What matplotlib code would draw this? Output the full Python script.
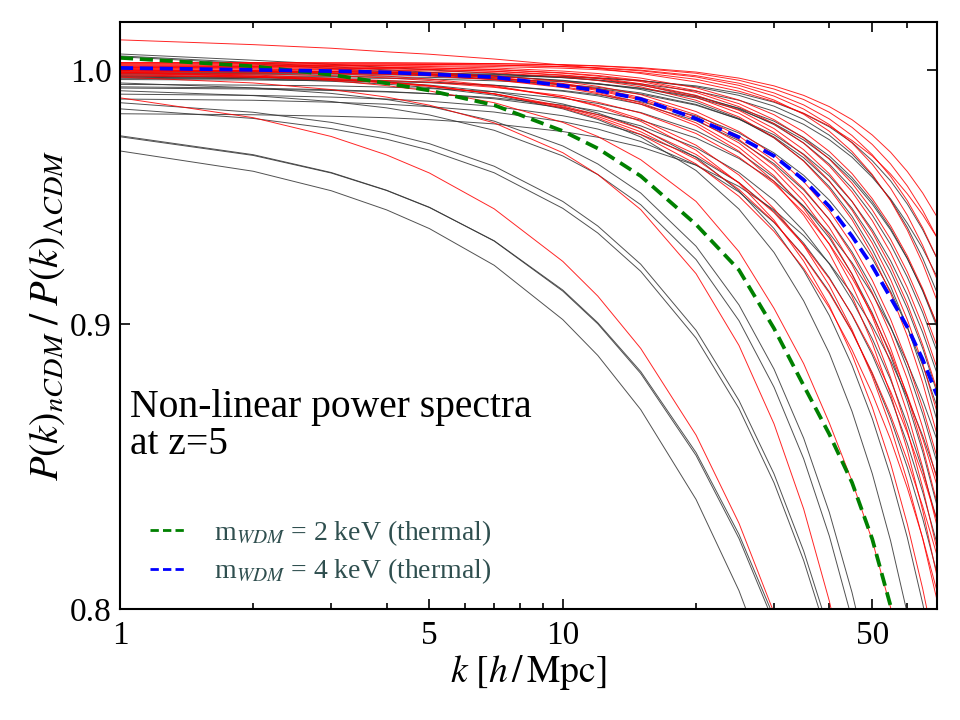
import matplotlib
matplotlib.use('Agg')
import matplotlib.pyplot as plt
from matplotlib.lines import Line2D
from matplotlib.ticker import FixedLocator, NullLocator, NullFormatter

plt.rcParams['font.family'] = ['Liberation Serif', 'DejaVu Serif']
plt.rcParams['mathtext.fontset'] = 'stix'

k_grid = [1, 2, 3, 4, 5, 7, 10, 12, 15, 20, 25, 30, 35, 40, 45, 50, 55, 60, 65, 70]

# P(k)_nCDM / P(k)_LCDM, black models
black_ratios = [
    [0.9670, 0.9589, 0.9512, 0.9437, 0.9364, 0.9223, 0.9018, 0.8885, 0.8688, 0.8371, 0.8061, 0.7757, 0.7459, 0.7165, 0.6874, 0.6585, 0.6302, 0.6020, 0.5740, 0.5460],
    [0.9731, 0.9655, 0.9584, 0.9514, 0.9447, 0.9316, 0.9125, 0.9002, 0.8819, 0.8525, 0.8237, 0.7954, 0.7678, 0.7405, 0.7134, 0.6866, 0.6603, 0.6340, 0.6081, 0.5820],
    [0.9727, 0.9652, 0.9582, 0.9513, 0.9446, 0.9317, 0.9129, 0.9006, 0.8826, 0.8535, 0.8251, 0.7972, 0.7698, 0.7429, 0.7161, 0.6897, 0.6637, 0.6380, 0.6121, 0.5870],
    [0.9840, 0.9801, 0.9760, 0.9717, 0.9673, 0.9583, 0.9443, 0.9347, 0.9200, 0.8949, 0.8692, 0.8429, 0.8162, 0.7892, 0.7617, 0.7338, 0.7059, 0.6777, 0.6491, 0.6204],
    [0.9865, 0.9826, 0.9785, 0.9742, 0.9699, 0.9609, 0.9470, 0.9374, 0.9227, 0.8978, 0.8721, 0.8460, 0.8194, 0.7925, 0.7651, 0.7373, 0.7096, 0.6814, 0.6530, 0.6244],
    [0.9914, 0.9894, 0.9870, 0.9844, 0.9815, 0.9753, 0.9650, 0.9576, 0.9457, 0.9245, 0.9014, 0.8769, 0.8513, 0.8245, 0.7966, 0.7677, 0.7382, 0.7075, 0.6764, 0.6444],
    [0.9946, 0.9926, 0.9903, 0.9878, 0.9850, 0.9790, 0.9690, 0.9618, 0.9503, 0.9296, 0.9073, 0.8835, 0.8586, 0.8326, 0.8055, 0.7774, 0.7487, 0.7190, 0.6887, 0.6580],
    [0.9971, 0.9963, 0.9953, 0.9941, 0.9927, 0.9896, 0.9840, 0.9797, 0.9726, 0.9592, 0.9440, 0.9272, 0.9088, 0.8893, 0.8682, 0.8461, 0.8229, 0.7985, 0.7731, 0.7468],
    [0.9975, 0.9968, 0.9959, 0.9949, 0.9937, 0.9910, 0.9860, 0.9823, 0.9761, 0.9644, 0.9511, 0.9364, 0.9204, 0.9033, 0.8849, 0.8656, 0.8453, 0.8240, 0.8018, 0.7788],
    [1.0066, 1.0040, 1.0023, 1.0010, 1.0000, 0.9985, 0.9968, 0.9958, 0.9942, 0.9912, 0.9875, 0.9830, 0.9777, 0.9715, 0.9645, 0.9565, 0.9480, 0.9385, 0.9287, 0.9180],
    [1.0058, 1.0030, 1.0013, 1.0000, 0.9990, 0.9975, 0.9955, 0.9943, 0.9925, 0.9890, 0.9843, 0.9790, 0.9724, 0.9650, 0.9564, 0.9470, 0.9365, 0.9250, 0.9125, 0.8990],
    [1.0054, 1.0025, 1.0006, 0.9992, 0.9980, 0.9962, 0.9938, 0.9923, 0.9900, 0.9855, 0.9798, 0.9735, 0.9657, 0.9570, 0.9470, 0.9360, 0.9240, 0.9110, 0.8970, 0.8820],
    [0.9980, 0.9980, 0.9979, 0.9979, 0.9978, 0.9975, 0.9970, 0.9965, 0.9955, 0.9934, 0.9904, 0.9867, 0.9821, 0.9767, 0.9704, 0.9631, 0.9551, 0.9460, 0.9360, 0.9250],
    [0.9995, 0.9994, 0.9993, 0.9991, 0.9988, 0.9982, 0.9968, 0.9957, 0.9937, 0.9894, 0.9841, 0.9776, 0.9702, 0.9617, 0.9522, 0.9417, 0.9303, 0.9178, 0.9044, 0.8900],
    [0.9970, 0.9969, 0.9967, 0.9965, 0.9962, 0.9955, 0.9940, 0.9928, 0.9905, 0.9858, 0.9798, 0.9726, 0.9643, 0.9549, 0.9443, 0.9326, 0.9199, 0.9060, 0.8911, 0.8750],
    [0.9965, 0.9963, 0.9959, 0.9955, 0.9950, 0.9937, 0.9912, 0.9893, 0.9859, 0.9792, 0.9711, 0.9619, 0.9515, 0.9400, 0.9274, 0.9138, 0.8992, 0.8837, 0.8673, 0.8500],
    [0.9940, 0.9937, 0.9934, 0.9929, 0.9923, 0.9910, 0.9883, 0.9862, 0.9825, 0.9752, 0.9665, 0.9564, 0.9451, 0.9328, 0.9190, 0.9043, 0.8885, 0.8717, 0.8538, 0.8350],
    [0.9900, 0.9895, 0.9888, 0.9880, 0.9871, 0.9850, 0.9812, 0.9784, 0.9736, 0.9646, 0.9544, 0.9431, 0.9308, 0.9176, 0.9035, 0.8887, 0.8731, 0.8567, 0.8397, 0.8220],
    [0.9880, 0.9875, 0.9867, 0.9859, 0.9849, 0.9827, 0.9788, 0.9758, 0.9708, 0.9614, 0.9507, 0.9388, 0.9259, 0.9122, 0.8974, 0.8818, 0.8655, 0.8483, 0.8305, 0.8120],
    [0.9820, 0.9816, 0.9810, 0.9804, 0.9796, 0.9779, 0.9748, 0.9725, 0.9686, 0.9613, 0.9529, 0.9437, 0.9337, 0.9230, 0.9115, 0.8994, 0.8866, 0.8733, 0.8594, 0.8450],
    [0.9990, 0.9989, 0.9987, 0.9985, 0.9982, 0.9974, 0.9957, 0.9943, 0.9919, 0.9867, 0.9801, 0.9722, 0.9631, 0.9528, 0.9412, 0.9283, 0.9143, 0.8990, 0.8826, 0.8650],
    [0.9985, 0.9985, 0.9984, 0.9983, 0.9982, 0.9980, 0.9973, 0.9967, 0.9956, 0.9930, 0.9895, 0.9851, 0.9797, 0.9733, 0.9658, 0.9572, 0.9476, 0.9369, 0.9250, 0.9120],
    [0.9975, 0.9974, 0.9973, 0.9971, 0.9969, 0.9963, 0.9951, 0.9941, 0.9923, 0.9885, 0.9837, 0.9780, 0.9714, 0.9639, 0.9554, 0.9460, 0.9359, 0.9248, 0.9128, 0.9000],
    [0.9930, 0.9925, 0.9918, 0.9911, 0.9902, 0.9881, 0.9845, 0.9817, 0.9771, 0.9683, 0.9584, 0.9475, 0.9355, 0.9228, 0.9091, 0.8947, 0.8796, 0.8637, 0.8472, 0.8300],
    [0.9960, 0.9958, 0.9955, 0.9951, 0.9947, 0.9936, 0.9915, 0.9898, 0.9869, 0.9811, 0.9742, 0.9662, 0.9573, 0.9475, 0.9366, 0.9249, 0.9124, 0.8990, 0.8849, 0.8700],
    [0.9925, 0.9921, 0.9915, 0.9909, 0.9902, 0.9885, 0.9855, 0.9832, 0.9794, 0.9722, 0.9640, 0.9549, 0.9451, 0.9346, 0.9233, 0.9114, 0.8989, 0.8858, 0.8722, 0.8580],
]

# red models
red_ratios = [
    [1.0030, 1.0030, 1.0029, 1.0029, 1.0028, 1.0026, 1.0022, 1.0017, 1.0009, 0.9991, 0.9966, 0.9934, 0.9895, 0.9849, 0.9796, 0.9734, 0.9665, 0.9588, 0.9503, 0.9410],
    [1.0030, 1.0030, 1.0029, 1.0029, 1.0028, 1.0026, 1.0020, 1.0016, 1.0006, 0.9986, 0.9957, 0.9921, 0.9878, 0.9826, 0.9765, 0.9696, 0.9618, 0.9531, 0.9435, 0.9330],
    [1.0025, 1.0025, 1.0024, 1.0024, 1.0023, 1.0020, 1.0014, 1.0009, 0.9999, 0.9976, 0.9945, 0.9905, 0.9856, 0.9799, 0.9732, 0.9655, 0.9569, 0.9473, 0.9367, 0.9250],
    [1.0025, 1.0025, 1.0024, 1.0024, 1.0022, 1.0020, 1.0013, 1.0007, 0.9996, 0.9971, 0.9936, 0.9892, 0.9839, 0.9776, 0.9702, 0.9617, 0.9522, 0.9416, 0.9299, 0.9170],
    [1.0020, 1.0020, 1.0019, 1.0018, 1.0017, 1.0014, 1.0007, 1.0001, 0.9989, 0.9961, 0.9924, 0.9876, 0.9818, 0.9749, 0.9668, 0.9576, 0.9473, 0.9358, 0.9230, 0.9090],
    [1.0020, 1.0019, 1.0018, 1.0016, 1.0014, 1.0008, 0.9995, 0.9985, 0.9966, 0.9926, 0.9876, 0.9816, 0.9747, 0.9668, 0.9580, 0.9481, 0.9375, 0.9259, 0.9134, 0.9000],
    [1.0015, 1.0014, 1.0013, 1.0011, 1.0008, 1.0002, 0.9988, 0.9977, 0.9957, 0.9914, 0.9861, 0.9796, 0.9722, 0.9637, 0.9542, 0.9437, 0.9323, 0.9198, 0.9064, 0.8920],
    [1.0015, 1.0014, 1.0012, 1.0010, 1.0008, 1.0001, 0.9986, 0.9974, 0.9952, 0.9907, 0.9849, 0.9780, 0.9701, 0.9610, 0.9508, 0.9395, 0.9272, 0.9138, 0.8995, 0.8840],
    [1.0010, 1.0009, 1.0007, 1.0005, 1.0002, 0.9995, 0.9979, 0.9967, 0.9943, 0.9895, 0.9834, 0.9760, 0.9675, 0.9579, 0.9470, 0.9350, 0.9220, 0.9078, 0.8924, 0.8760],
    [1.0010, 1.0009, 1.0007, 1.0005, 1.0002, 0.9994, 0.9977, 0.9964, 0.9939, 0.9887, 0.9822, 0.9744, 0.9654, 0.9551, 0.9436, 0.9308, 0.9169, 0.9018, 0.8855, 0.8680],
    [1.0005, 1.0004, 1.0002, 0.9999, 0.9996, 0.9988, 0.9971, 0.9956, 0.9930, 0.9875, 0.9807, 0.9724, 0.9629, 0.9520, 0.9399, 0.9263, 0.9117, 0.8957, 0.8785, 0.8600],
    [1.0005, 1.0003, 0.9999, 0.9995, 0.9989, 0.9976, 0.9952, 0.9932, 0.9898, 0.9829, 0.9748, 0.9654, 0.9548, 0.9433, 0.9304, 0.9166, 0.9019, 0.8861, 0.8695, 0.8520],
    [1.0000, 0.9997, 0.9994, 0.9989, 0.9984, 0.9970, 0.9944, 0.9923, 0.9887, 0.9816, 0.9730, 0.9631, 0.9520, 0.9399, 0.9264, 0.9119, 0.8964, 0.8799, 0.8624, 0.8440],
    [1.0000, 0.9997, 0.9993, 0.9989, 0.9983, 0.9968, 0.9941, 0.9919, 0.9881, 0.9806, 0.9716, 0.9612, 0.9496, 0.9368, 0.9226, 0.9074, 0.8911, 0.8737, 0.8554, 0.8360],
    [1.0000, 0.9997, 0.9993, 0.9988, 0.9982, 0.9967, 0.9938, 0.9915, 0.9876, 0.9797, 0.9702, 0.9593, 0.9471, 0.9337, 0.9189, 0.9029, 0.8858, 0.8676, 0.8483, 0.8280],
    [0.9995, 0.9992, 0.9988, 0.9983, 0.9976, 0.9961, 0.9931, 0.9907, 0.9865, 0.9783, 0.9684, 0.9571, 0.9443, 0.9303, 0.9148, 0.8981, 0.8804, 0.8613, 0.8412, 0.8200],
    [0.9995, 0.9992, 0.9987, 0.9982, 0.9975, 0.9959, 0.9927, 0.9902, 0.9859, 0.9772, 0.9669, 0.9549, 0.9416, 0.9269, 0.9106, 0.8931, 0.8744, 0.8544, 0.8333, 0.8110],
    [0.9990, 0.9984, 0.9976, 0.9967, 0.9956, 0.9931, 0.9887, 0.9854, 0.9798, 0.9693, 0.9574, 0.9442, 0.9299, 0.9146, 0.8981, 0.8808, 0.8626, 0.8435, 0.8236, 0.8030],
    [1.0000, 0.9993, 0.9985, 0.9974, 0.9962, 0.9935, 0.9887, 0.9850, 0.9789, 0.9673, 0.9542, 0.9397, 0.9239, 0.9070, 0.8888, 0.8697, 0.8497, 0.8286, 0.8067, 0.7840],
    [0.9990, 0.9979, 0.9965, 0.9951, 0.9935, 0.9901, 0.9843, 0.9802, 0.9736, 0.9618, 0.9490, 0.9353, 0.9211, 0.9062, 0.8906, 0.8746, 0.8581, 0.8411, 0.8238, 0.8060],
    [0.9985, 0.9974, 0.9962, 0.9948, 0.9934, 0.9901, 0.9848, 0.9809, 0.9747, 0.9637, 0.9517, 0.9390, 0.9256, 0.9117, 0.8972, 0.8822, 0.8668, 0.8508, 0.8347, 0.8180],
    [0.9990, 0.9974, 0.9956, 0.9935, 0.9913, 0.9865, 0.9785, 0.9728, 0.9635, 0.9470, 0.9275, 0.9060, 0.8855, 0.8640, 0.8435, 0.8230, 0.8005, 0.7770, 0.7530, 0.7295],
    [0.9980, 0.9970, 0.9959, 0.9946, 0.9932, 0.9902, 0.9852, 0.9816, 0.9759, 0.9656, 0.9544, 0.9426, 0.9302, 0.9172, 0.9037, 0.8897, 0.8754, 0.8605, 0.8455, 0.8300],
    [0.9975, 0.9970, 0.9964, 0.9956, 0.9948, 0.9928, 0.9894, 0.9867, 0.9823, 0.9740, 0.9645, 0.9541, 0.9427, 0.9305, 0.9175, 0.9037, 0.8893, 0.8741, 0.8584, 0.8420],
    [0.9970, 0.9946, 0.9919, 0.9888, 0.9855, 0.9783, 0.9663, 0.9576, 0.9438, 0.9191, 0.8922, 0.8637, 0.8338, 0.8026, 0.7701, 0.7365, 0.7021, 0.6660, 0.6301, 0.5930],
    [0.9885, 0.9804, 0.9728, 0.9654, 0.9582, 0.9441, 0.9238, 0.9106, 0.8911, 0.8597, 0.8289, 0.7987, 0.7692, 0.7401, 0.7111, 0.6825, 0.6544, 0.6260, 0.5987, 0.5710],
    [1.0125, 1.0105, 1.0090, 1.0075, 1.0065, 1.0045, 1.0020, 1.0006, 0.9985, 0.9950, 0.9912, 0.9870, 0.9822, 0.9770, 0.9712, 0.9650, 0.9578, 0.9500, 0.9418, 0.9330],
]

# thermal WDM reference curves
wdm_2kev = [1.0050, 1.0015, 0.9980, 0.9945, 0.9915, 0.9855, 0.9750, 0.9680, 0.9570, 0.9380, 0.9205, 0.8985, 0.8775, 0.8600, 0.8430, 0.8235, 0.8010, 0.7800, 0.7580, 0.7360]
wdm_4kev = [1.0008, 1.0000, 0.9995, 0.9990, 0.9982, 0.9970, 0.9935, 0.9915, 0.9880, 0.9800, 0.9725, 0.9650, 0.9555, 0.9450, 0.9335, 0.9220, 0.9100, 0.8990, 0.8870, 0.8740]

fig = plt.figure(figsize=(9.6, 7.2), dpi=100)
ax = fig.add_axes([0.125, 0.1542, 0.851, 0.8152])

for r in black_ratios:
    ax.plot(k_grid, r, color='#333333', lw=0.7, alpha=0.85)
for r in red_ratios:
    ax.plot(k_grid, r, color='red', lw=0.7, alpha=0.85)

ax.plot(k_grid, wdm_2kev, color='green', lw=2.7, dashes=(3.5, 1.8))
ax.plot(k_grid, wdm_4kev, color='blue', lw=2.7, dashes=(3.5, 1.8))

ax.set_xscale('log')
ax.set_yscale('log')
ax.set_xlim(1, 70)
ax.set_ylim(0.8, 1.02)

ax.xaxis.set_major_locator(FixedLocator([1, 5, 10, 50]))
ax.set_xticklabels(['1', '5', '10', '50'])
ax.xaxis.set_minor_locator(FixedLocator([2, 3, 4, 6, 7, 8, 9, 20, 30, 40, 60, 70]))
ax.xaxis.set_minor_formatter(NullFormatter())
ax.yaxis.set_major_locator(FixedLocator([0.8, 0.9, 1.0]))
ax.set_yticklabels(['0.8', '0.9', '1.0'])
ax.yaxis.set_minor_locator(NullLocator())
ax.yaxis.set_minor_formatter(NullFormatter())

ax.tick_params(which='both', direction='in', top=True, right=True, labelsize=24, width=1.2)
ax.tick_params(which='major', length=7)
ax.tick_params(which='minor', length=4)
ax.tick_params(axis='x', pad=8)
ax.tick_params(axis='y', pad=6)
for s in ax.spines.values():
    s.set_linewidth(1.5)

ax.set_xlabel(r'$k\ [h\,/\,\mathrm{Mpc}]$', fontsize=27, labelpad=2)
ax.set_ylabel(r'$P(k)_{nCDM}\;/\;P(k)_{\Lambda CDM}$', fontsize=29, labelpad=2)

ax.text(0.012, 0.375, 'Non-linear power spectra\nat z=5', transform=ax.transAxes,
        fontsize=28.5, va='top', ha='left', linespacing=1.0)

handles = [Line2D([], [], color='green', lw=2, dashes=(3, 1.5)),
           Line2D([], [], color='blue', lw=2, dashes=(3, 1.5))]
ax.legend(handles, [r'm$_{WDM}$ = 2 keV (thermal)', r'm$_{WDM}$ = 4 keV (thermal)'],
          loc='lower left', bbox_to_anchor=(0.023, 0.02), borderaxespad=0, frameon=False,
          fontsize=20, labelcolor='#2f4f4f', handlelength=1.3, handletextpad=1.0,
          labelspacing=0.3)

fig.savefig('out.png', dpi=100)
